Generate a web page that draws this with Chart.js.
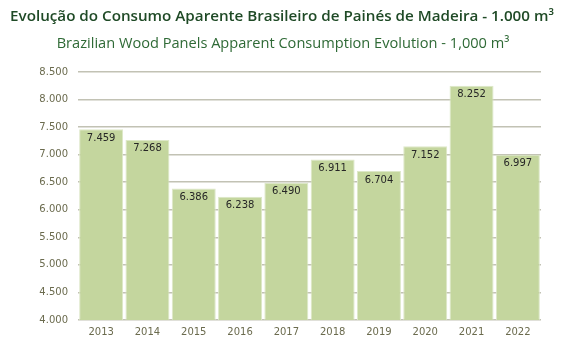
<!DOCTYPE html>
<html><head><meta charset="utf-8">
<script src="https://cdn.jsdelivr.net/npm/chart.js@4/dist/chart.umd.min.js"></script>
<style>html,body{margin:0;padding:0;background:#fff}#wrap{width:561px;height:356px}</style>
</head><body><div id="wrap"><canvas id="c" width="561" height="356"></canvas></div>
<script>
const years = ['2013','2014','2015','2016','2017','2018','2019','2020','2021','2022'];
const consumption = [7459, 7268, 6386, 6238, 6490, 6911, 6704, 7152, 8252, 6997];
const titleLine1 = 'Evolução do Consumo Aparente Brasileiro de Painés de Madeira - 1.000 m³';
const titleLine2 = 'Brazilian Wood Panels Apparent Consumption Evolution - 1,000 m³';
const yMin = 4000, yMax = 8500, yStep = 500;

function fmt(v){ return String(v).replace(/\B(?=(\d{3})+(?!\d))/g, '.'); }

const valueLabels = {
  id: 'valueLabels',
  afterDatasetsDraw(chart){
    const ctx = chart.ctx;
    const meta = chart.getDatasetMeta(0);
    ctx.save();
    ctx.font = '10px "DejaVu Sans"';
    ctx.fillStyle = '#262626';
    ctx.textAlign = 'center';
    ctx.textBaseline = 'middle';
    meta.data.forEach((bar, i) => {
      ctx.fillText(fmt(chart.data.datasets[0].data[i]), bar.x, bar.y + 9);
    });
    ctx.restore();
  }
};

const titles = {
  id: 'titles',
  afterDraw(chart){
    const ctx = chart.ctx;
    ctx.save();
    ctx.textAlign = 'center';
    ctx.textBaseline = 'middle';
    ctx.fillStyle = '#1f4a26';
    ctx.font = '600 15.2px "Open Sans"';
    ctx.fillText(titleLine1, 282, 17);
    ctx.fillStyle = '#2f6a36';
    ctx.font = '14.6px "Open Sans"';
    ctx.fillText(titleLine2, 283, 44);
    ctx.restore();
  }
};

new Chart(document.getElementById('c'), {
  type: 'bar',
  data: { labels: years, datasets: [{
    data: consumption,
    backgroundColor: '#c4d69e',
    borderColor: '#dde8c8',
    borderWidth: 1,
    barPercentage: 0.95,
    categoryPercentage: 1.0
  }]},
  options: {
    responsive: false,
    animation: false,
    layout: { padding: { top: 72, left: 0, right: 20, bottom: 0 } },
    plugins: {
      legend: { display: false },
      tooltip: { enabled: false },
      title: { display: false }
    },
    scales: {
      x: {
        grid: { display: false, drawTicks: false },
        border: { display: false },
        ticks: { color: '#6b6b4e', font: { family: 'DejaVu Sans', size: 10 }, padding: 6 },
        afterFit(s){ s.height = 36; }
      },
      y: {
        min: yMin, max: yMax,
        grid: { color: '#c2c2b4', lineWidth: 1.5, drawTicks: false },
        border: { display: false },
        ticks: { stepSize: yStep, color: '#6b6b4e', font: { family: 'DejaVu Sans', size: 10 }, padding: 10,
          callback: v => fmt(v) },
        afterFit(s){ s.width = 78; }
      }
    }
  },
  plugins: [valueLabels, titles]
});
</script></body></html>
